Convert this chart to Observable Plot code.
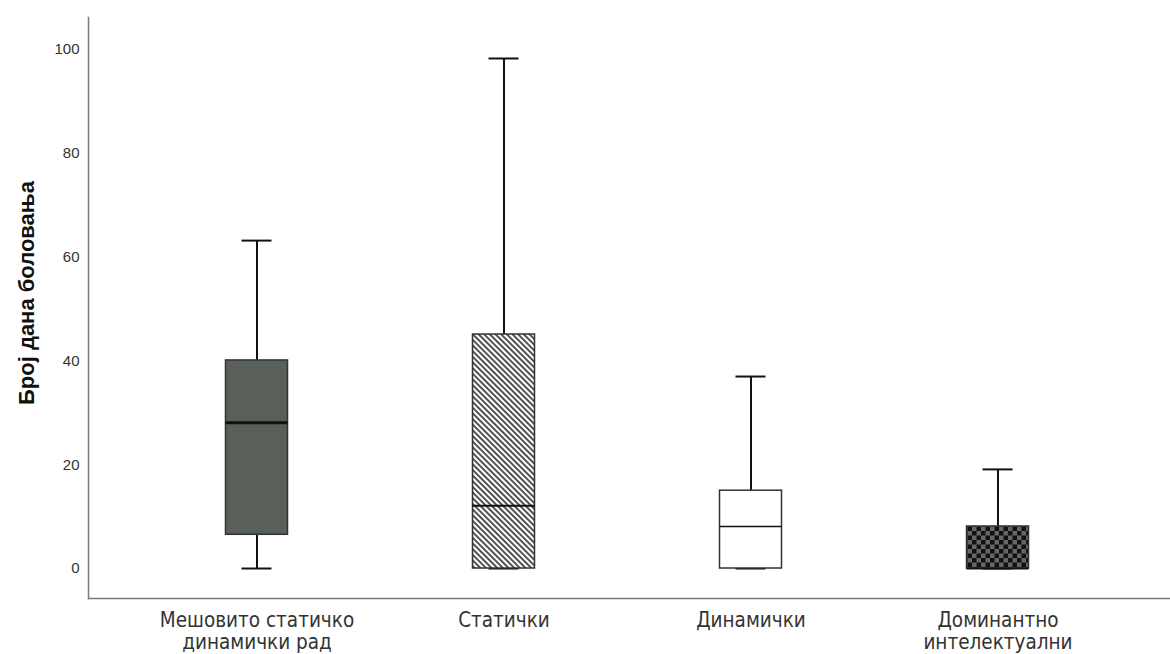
<!DOCTYPE html>
<html>
<head>
<meta charset="utf-8">
<script src="https://cdn.jsdelivr.net/npm/d3@7"></script>
<script src="https://cdn.jsdelivr.net/npm/@observablehq/plot@0.6"></script>
<style>
  html, body { margin: 0; padding: 0; background: #fff; }
  #chart svg { display: block; }
</style>
</head>
<body>
<div id="chart"></div>
<script>
const categories = ["Мешовито статичко\nдинамички рад", "Статички", "Динамички", "Доминантно\nинтелектуални"];
const whiskerLow = [0, 0, 0, 0];
const q1 = [6.5, 0, 0, 0];
const median = [28.1, 12.1, 8.1, 0];
const q3 = [40.1, 45.1, 15.0, 8.1];
const whiskerHigh = [63.2, 98.3, 37.0, 19.1];
const fills = ["#596059", "url(#hatch)", "#ffffff", "url(#checker)"];
const medianWidths = [3, 2, 1.5, 2];
const yTicks = [0, 20, 40, 60, 80, 100];
const yTitle = "Број дана боловања";

const data = categories.map((c, i) => ({
  cat: c, lo: whiskerLow[i], q1: q1[i], med: median[i], q3: q3[i], hi: whiskerHigh[i],
  fill: fills[i], mw: medianWidths[i]
}));

const boxInset = 92.5;
const capInset = 108.5;

const svg = Plot.plot({
  width: 1170,
  height: 654,
  marginLeft: 88,
  marginRight: 0,
  marginTop: 17,
  marginBottom: 56,
  style: { fontFamily: "'Liberation Sans', Arial, sans-serif", color: "#222", background: "#fff" },
  x: { domain: categories, range: [132.5, 1120.5], padding: 0 },
  y: { domain: [-5.78, 106.2] },
  color: { type: "identity" },
  marks: [
    Plot.frame({ anchor: "left", stroke: "#7a7a7a", strokeWidth: 1.5 }),
    Plot.frame({ anchor: "bottom", stroke: "#7a7a7a", strokeWidth: 1.5 }),
    Plot.axisY({ ticks: yTicks, tickSize: 0, tickPadding: 9, fontSize: 15, fill: "#333", label: null }),
    Plot.axisX({ tickSize: 0, tickPadding: 13, fontSize: 20.5, lineHeight: 1.07, fill: "#333", label: null,
      fontFamily: "'Liberation Sans Narrow', 'Arial Narrow', 'DejaVu Sans Condensed', sans-serif" }),
    Plot.text([yTitle], { text: d => d, frameAnchor: "left", textAnchor: "middle", rotate: -90, dx: -62, dy: -15,
      fontSize: 22, fontWeight: "bold", fill: "#111" }),
    // whiskers
    Plot.ruleX(data, { x: "cat", y1: "lo", y2: "q1", stroke: "#111", strokeWidth: 2 }),
    Plot.ruleX(data, { x: "cat", y1: "q3", y2: "hi", stroke: "#111", strokeWidth: 2 }),
    Plot.tickY(data, { x: "cat", y: "hi", insetLeft: capInset, insetRight: capInset, stroke: "#111", strokeWidth: 2 }),
    Plot.tickY(data, { x: "cat", y: "lo", insetLeft: capInset, insetRight: capInset, stroke: "#111", strokeWidth: 2 }),
    // boxes
    Plot.barY(data, { x: "cat", y1: "q1", y2: "q3", fill: "fill", stroke: "#333", strokeWidth: 1.5,
      insetLeft: boxInset, insetRight: boxInset }),
    // medians
    Plot.tickY(data, { x: "cat", y: "med", insetLeft: boxInset, insetRight: boxInset, stroke: "#111", strokeWidth: "mw" })
  ]
});

const defs = d3.select(svg).insert("defs", ":first-child");
const hatch = defs.append("pattern")
  .attr("id", "hatch").attr("patternUnits", "userSpaceOnUse")
  .attr("width", 4).attr("height", 4).attr("patternTransform", "rotate(-45)");
hatch.append("rect").attr("width", 4).attr("height", 4).attr("fill", "#fff");
hatch.append("line").attr("x1", 2).attr("y1", 0).attr("x2", 2).attr("y2", 4)
  .attr("stroke", "#333").attr("stroke-width", 1.7);
const checker = defs.append("pattern")
  .attr("id", "checker").attr("patternUnits", "userSpaceOnUse")
  .attr("width", 9).attr("height", 9);
checker.append("rect").attr("width", 9).attr("height", 9).attr("fill", "#666");
checker.append("rect").attr("width", 4.5).attr("height", 4.5).attr("fill", "#111");
checker.append("rect").attr("x", 4.5).attr("y", 4.5).attr("width", 4.5).attr("height", 4.5).attr("fill", "#111");

document.getElementById("chart").appendChild(svg);
</script>
</body>
</html>
